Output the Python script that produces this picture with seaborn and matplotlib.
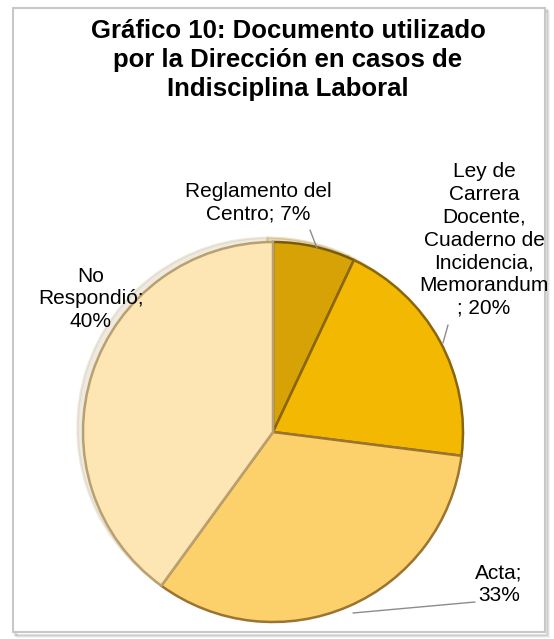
import matplotlib
matplotlib.use("Agg")
import matplotlib.pyplot as plt
from matplotlib.patches import Rectangle
import seaborn as sns

# ---- data ----
categories = ["Reglamento del Centro", "Ley de Carrera Docente, Cuaderno de Incidencia, Memorandum",
              "Acta", "No Respondió"]
values = [7, 20, 33, 40]
label_texts = ["Reglamento del\nCentro; 7%",
               "Ley de\nCarrera\nDocente,\nCuaderno de\nIncidencia,\nMemorandum\n; 20%",
               "Acta;\n33%",
               "No\nRespondió;\n40%"]
title = "Gráfico 10: Documento utilizado\npor la Dirección en casos de\nIndisciplina Laboral"

sns.set_theme(style="white")
plt.rcParams['font.family'] = ['Liberation Sans', 'DejaVu Sans']

colors = ["#D6A206", "#F3B802", "#FCD06A", "#FEE6B4"]
edge_colors = ["#7a5a08", "#8a6608", "#9a7430", "#b8a070"]

W, H = 554, 639
fig = plt.figure(figsize=(W / 100, H / 100), dpi=100)
fig.patch.set_facecolor("white")

ax = fig.add_axes([0, 0, 1, 1])

# frame with soft shadow
for i, a in enumerate([0.12, 0.08, 0.04]):
    ax.add_patch(Rectangle((13 + 2 + i, H - 633 - 2 - i), 532, 625, facecolor="none",
                           edgecolor=(0, 0, 0, a), linewidth=1.5, zorder=-3))
ax.add_patch(Rectangle((13, H - 632), 532, 624, facecolor="white",
                       edgecolor="#c8c8c8", linewidth=1.5, zorder=-2))

cx, cy, r = 273, H - 432, 190
wedges, _ = ax.pie(values, colors=colors, startangle=90, counterclock=False,
                   center=(cx, cy), radius=r, frame=True,
                   wedgeprops=dict(linewidth=1.8),
                   shadow=dict(ox=-4, oy=3, shade=0.25, alpha=0.25))
for w, ec in zip(wedges, edge_colors):
    w.set_edgecolor(ec)
ax.set_xlim(0, W)
ax.set_ylim(0, H)
ax.set_aspect("equal")
ax.axis("off")

fig.text(288 / W, 1 - 60 / H, title, ha="center", va="center", fontsize=18.5,
         fontweight="bold", linespacing=1.24, color="black")

fs = 15
ls = 1.25
tc = "black"
ax.text(258, H - 203, label_texts[0], ha="center", va="center", fontsize=fs, linespacing=ls, color=tc)
ax.text(484, H - 240, label_texts[1], ha="center", va="center", fontsize=fs, linespacing=ls, color=tc)
ax.text(499, H - 584, label_texts[2], ha="center", va="center", fontsize=fs, linespacing=ls, color=tc)
ax.text(91, H - 299, label_texts[3], ha="center", va="center", fontsize=fs, linespacing=ls, color=tc)

# leader lines
lc = "#8c8c8c"
ax.plot([310, 317], [H - 230, H - 248], color=lc, lw=1)
ax.plot([448, 443], [H - 325, H - 343], color=lc, lw=1)
ax.plot([475, 353], [H - 602, H - 613], color=lc, lw=1)

fig.savefig("out.png", dpi=100, facecolor="white")
